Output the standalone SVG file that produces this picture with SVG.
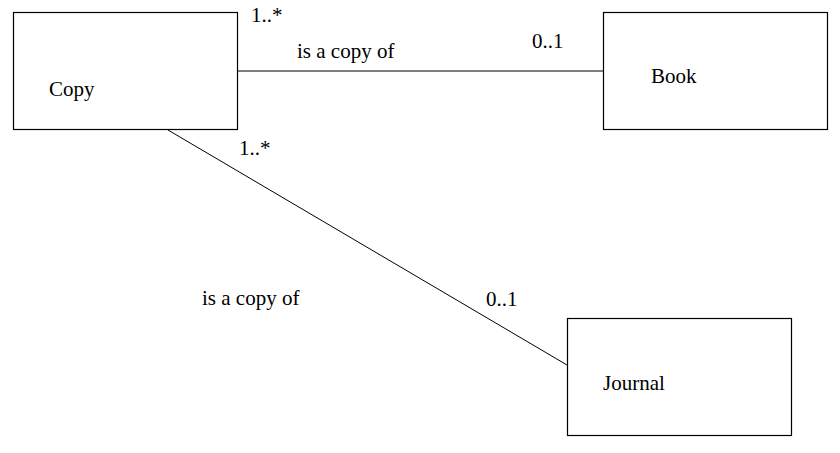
<svg xmlns="http://www.w3.org/2000/svg" width="840" height="453" viewBox="0 0 840 453">
<style>
.box{fill:#fff;stroke:#000;stroke-width:1.2}
.ln{stroke:#000;stroke-width:1;fill:none}
text{font-family:"Liberation Serif","Times New Roman",serif;font-size:21px;fill:#000}
</style>
<rect width="840" height="453" fill="#fff"/>
<g id="connectors">
<line class="ln" x1="237" y1="71" x2="603" y2="71" stroke-width="1.3"/>
<line class="ln" x1="168" y1="130" x2="567" y2="365"/>
<text x="251" y="22">1..*</text>
<text x="297" y="58">is a copy of</text>
<text x="532" y="48">0..1</text>
<text x="239" y="155">1..*</text>
<text x="202" y="305">is a copy of</text>
<text x="486" y="306">0..1</text>
</g>
<g id="copy">
<rect class="box" x="13.5" y="12.5" width="224" height="117"/>
<text x="49" y="96">Copy</text>
</g>
<g id="book">
<rect class="box" x="603.5" y="12.5" width="224" height="117"/>
<text x="651" y="83">Book</text>
</g>
<g id="journal">
<rect class="box" x="567.5" y="318.5" width="224" height="117"/>
<text x="603" y="390">Journal</text>
</g>
</svg>
